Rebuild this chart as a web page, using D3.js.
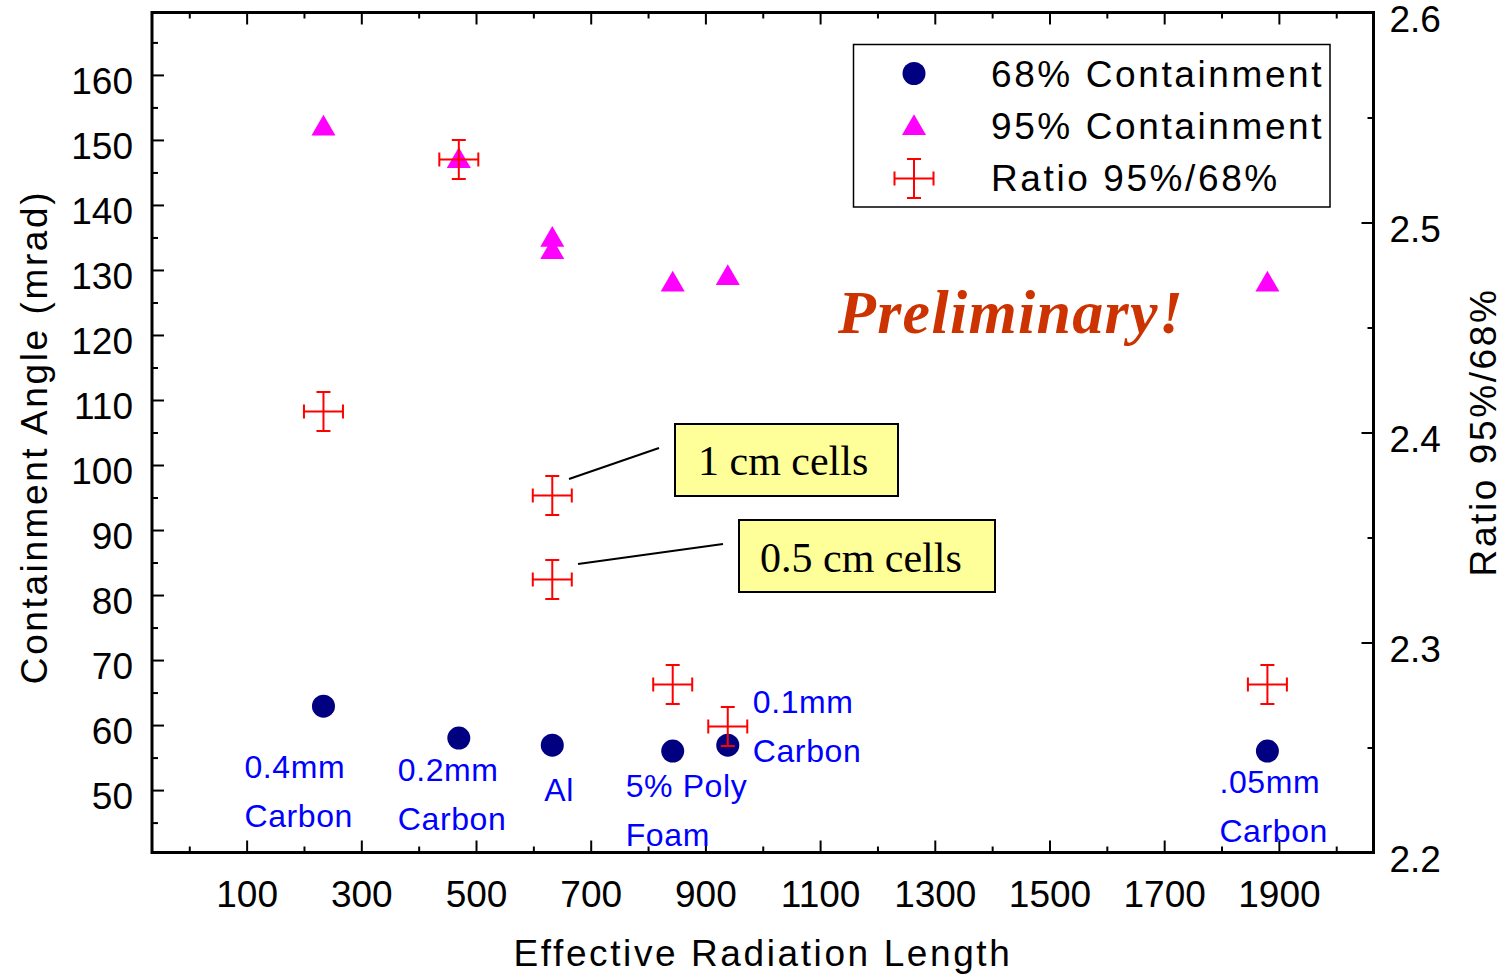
<!DOCTYPE html>
<html lang="en">
<head>
<meta charset="UTF-8">
<title>Containment Angle</title>
<script src="https://cdn.jsdelivr.net/npm/d3@7"></script>
<style>
  body { margin: 0; background: #fff; }
  svg text { font-family: "Liberation Sans", Arial, sans-serif; }
</style>
</head>
<body>
<script>
// data
var radLength   = [234, 470, 633, 633, 843, 939, 1880];   // x for each ratio point
var c68X        = [234, 470, 633, 843, 939, 1880];
var c68         = [62.9, 58.0, 56.9, 56.0, 56.9, 56.0];
var c95X        = [234, 470, 633, 633, 843, 939, 1880];
var c95         = [152.2, 147.2, 135.1, 133.2, 128.2, 129.2, 128.2];
var ratio       = [2.41, 2.53, 2.37, 2.33, 2.28, 2.26, 2.28];
var ratioErrY   = 0.0093;
var ratioErrX   = 34;
var sampleLabels = [
  {x: 234,  y: 51.8, dx: -79, lines: ["0.4mm", "Carbon"]},
  {x: 470,  y: 51.4, dx: -61, lines: ["0.2mm", "Carbon"]},
  {x: 633,  y: 48.3, dx: -8,  lines: ["Al"]},
  {x: 843,  y: 49.0, dx: -47, lines: ["5% Poly", "Foam"]},
  {x: 939,  y: 61.8, dx: 25,  lines: ["0.1mm", "Carbon"]},
  {x: 1880, y: 49.5, dx: -48, lines: [".05mm", "Carbon"]}
];
var xMajor = [100, 300, 500, 700, 900, 1100, 1300, 1500, 1700, 1900];
var xMinor = [0, 200, 400, 600, 800, 1000, 1200, 1400, 1600, 1800, 2000];
var yMajor = d3.range(50, 161, 10);
var yMinor = d3.range(45, 166, 10);
var rMajor = [2.2, 2.3, 2.4, 2.5, 2.6];
var rMinor = [2.25, 2.35, 2.45, 2.55];

var width = 1509, height = 977;
var mLeft = 152, mRight = 1373.5, mTop = 12.5, mBottom = 852.5;

var svg = d3.select("body").append("svg")
    .attr("width", width)
    .attr("height", height);

var x = d3.scaleLinear().domain([-65, 2065]).range([mLeft, mRight]);
var y = d3.scaleLinear().domain([40.4, 169.6]).range([mBottom, mTop]);
var yr = d3.scaleLinear().domain([2.2, 2.6]).range([mBottom, mTop]);

function axisGroup(axis, tx, ty) {
    var g = svg.append("g").attr("transform", "translate(" + tx + "," + ty + ")").call(axis);
    g.select(".domain").remove();
    g.selectAll("line").attr("stroke", "#000").attr("stroke-width", 2);
    g.selectAll("text").style("font-size", "37px").attr("fill", "#000")
        .style("font-family", "'Liberation Sans', Arial, sans-serif");
    return g;
}

// bottom
axisGroup(d3.axisBottom(x).tickValues(xMajor).tickSize(-12).tickPadding(28).tickFormat(d3.format("d")), 0, mBottom);
axisGroup(d3.axisBottom(x).tickValues(xMinor).tickSize(-6).tickFormat(""), 0, mBottom);
// top (mirror, no labels)
axisGroup(d3.axisTop(x).tickValues(xMajor).tickSize(-12).tickFormat(""), 0, mTop);
axisGroup(d3.axisTop(x).tickValues(xMinor).tickSize(-6).tickFormat(""), 0, mTop);
// left
var gl = axisGroup(d3.axisLeft(y).tickValues(yMajor).tickSize(-12).tickPadding(19), mLeft, 0);
gl.selectAll("text").attr("dy", "0.5em");
axisGroup(d3.axisLeft(y).tickValues(yMinor).tickSize(-6).tickFormat(""), mLeft, 0);
// right
var gr = axisGroup(d3.axisRight(yr).tickValues(rMajor).tickSize(-12).tickPadding(16).tickFormat(d3.format(".1f")), mRight, 0);
gr.selectAll("text").attr("dy", "0.52em");
axisGroup(d3.axisRight(yr).tickValues(rMinor).tickSize(-6).tickFormat(""), mRight, 0);

// frame
svg.append("rect")
    .attr("x", mLeft).attr("y", mTop)
    .attr("width", mRight - mLeft).attr("height", mBottom - mTop)
    .attr("fill", "none").attr("stroke", "#000").attr("stroke-width", 3);

// axis titles
svg.append("text")
    .attr("x", 763).attr("y", 966)
    .attr("text-anchor", "middle")
    .style("font-size", "37px").style("letter-spacing", "2.6px")
    .text("Effective Radiation Length");
svg.append("text")
    .attr("transform", "translate(47,437) rotate(-90)")
    .attr("text-anchor", "middle")
    .style("font-size", "37px").style("letter-spacing", "2.6px")
    .text("Containment Angle (mrad)");
svg.append("text")
    .attr("transform", "translate(1496,432) rotate(-90)")
    .attr("text-anchor", "middle")
    .style("font-size", "37px").style("letter-spacing", "2.6px")
    .text("Ratio 95%/68%");

// marks
var triangle = d3.symbol().type(d3.symbolTriangle).size(250);

function drawCross(g, cx, cy, hx, hy) {
    var p = "M" + (cx - hx) + "," + cy + "H" + (cx + hx) +
            "M" + cx + "," + (cy - hy) + "V" + (cy + hy) +
            "M" + (cx - 7) + "," + (cy - hy) + "H" + (cx + 7) +
            "M" + (cx - 7) + "," + (cy + hy) + "H" + (cx + 7) +
            "M" + (cx - hx) + "," + (cy - 7) + "V" + (cy + 7) +
            "M" + (cx + hx) + "," + (cy - 7) + "V" + (cy + 7);
    g.append("path").attr("d", p).attr("fill", "none")
        .attr("stroke", "#ff0000").attr("stroke-width", 2);
}

svg.append("g").selectAll("circle")
    .data(c68)
    .enter().append("circle")
    .attr("cx", function (d, i) { return x(c68X[i]); })
    .attr("cy", function (d) { return y(d); })
    .attr("r", 11.5)
    .attr("fill", "#000080");

svg.append("g").selectAll("path")
    .data(c95)
    .enter().append("path")
    .attr("d", triangle)
    .attr("transform", function (d, i) { return "translate(" + x(c95X[i]) + "," + (y(d) + 3) + ")"; })
    .attr("fill", "#ff00ff");

var crossG = svg.append("g");
ratio.forEach(function (d, i) {
    var cx = x(radLength[i]), cy = yr(d);
    drawCross(crossG, cx, cy, x(radLength[i] + ratioErrX) - cx, cy - yr(d + ratioErrY));
});

// sample labels
sampleLabels.forEach(function (s) {
    var t = svg.append("text")
        .attr("y", y(s.y))
        .attr("fill", "#0000ff")
        .style("font-size", "32px").style("letter-spacing", "0.6px");
    t.selectAll("tspan").data(s.lines).enter().append("tspan")
        .attr("x", x(s.x) + s.dx)
        .attr("dy", function (d, i) { return i === 0 ? 0 : 49; })
        .text(function (d) { return d; });
});

// legend
var lg = svg.append("g");
lg.append("rect").attr("x", 853.5).attr("y", 44.5).attr("width", 476.5).attr("height", 162.5)
    .attr("fill", "#fff").attr("stroke", "#000").attr("stroke-width", 1.5);
lg.append("circle").attr("cx", 914).attr("cy", 73.5).attr("r", 11.5).attr("fill", "#000080");
lg.append("path").attr("d", triangle).attr("transform", "translate(914,128)").attr("fill", "#ff00ff");
drawCross(lg, 914, 178.5, 19.5, 19.5);
["68% Containment", "95% Containment", "Ratio 95%/68%"].forEach(function (t, i) {
    lg.append("text").attr("x", 991).attr("y", 87 + i * 52)
        .style("font-size", "37px").style("letter-spacing", "2.6px").text(t);
});

// preliminary
svg.append("text")
    .attr("x", 838).attr("y", 333)
    .attr("fill", "#cc3300")
    .style("font-family", "'Liberation Serif', 'Times New Roman', serif")
    .style("font-weight", "bold").style("font-style", "italic")
    .style("font-size", "62px").style("letter-spacing", "1.3px")
    .text("Preliminary!");

// annotation callouts
var notes = [
    {box: [675, 424, 223, 72], text: "1 cm cells", tx: 698, ty: 475, line: [569, 479, 659, 448]},
    {box: [739, 520, 256, 72], text: "0.5 cm cells", tx: 760, ty: 572, line: [578, 564, 723, 544]}
];
notes.forEach(function (n) {
    svg.append("line")
        .attr("x1", n.line[0]).attr("y1", n.line[1])
        .attr("x2", n.line[2]).attr("y2", n.line[3])
        .attr("stroke", "#000").attr("stroke-width", 2);
    svg.append("rect")
        .attr("x", n.box[0]).attr("y", n.box[1])
        .attr("width", n.box[2]).attr("height", n.box[3])
        .attr("fill", "#ffff99").attr("stroke", "#000").attr("stroke-width", 2);
    svg.append("text")
        .attr("x", n.tx).attr("y", n.ty)
        .style("font-family", "'Liberation Serif', 'Times New Roman', serif")
        .style("font-size", "42px")
        .text(n.text);
});
</script>
</body>
</html>
